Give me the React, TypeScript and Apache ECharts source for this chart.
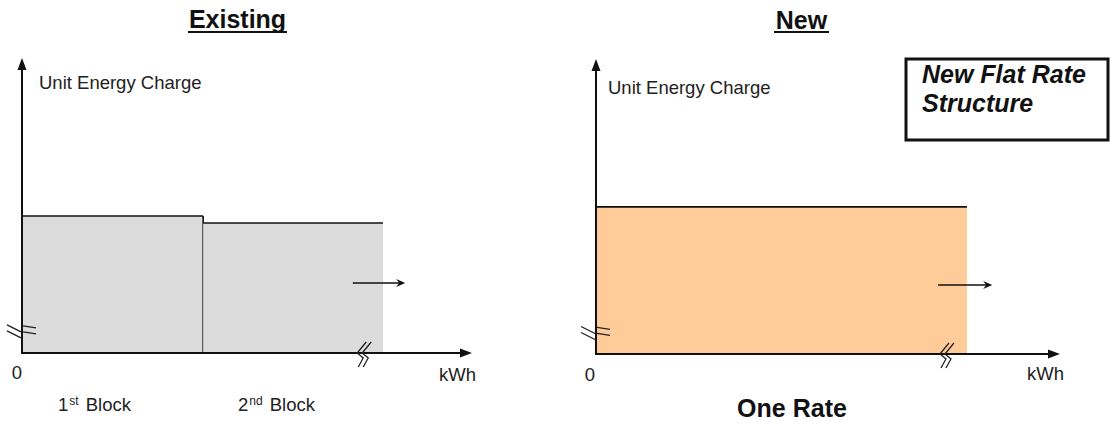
import React, { useEffect, useRef } from "react";
import * as echarts from "echarts";

// Rate blocks as [start kWh, end kWh, unit energy charge]
const existingBlocks: number[][] = [
  [0, 4.08, 4.74],
  [4.08, 8.13, 4.5],
];
const newBlocks: number[][] = [[0, 8.1, 5.09]];

// "continues beyond" arrows: [from kWh, to kWh, height]
const existingFlow: number[][] = [[7.45, 8.63, 2.42]];
const newFlow: number[][] = [[7.47, 8.65, 2.39]];

// Axis break marks: [position on kWh axis, position on charge axis]
const existingBreaks: number[][] = [[7.55, 0.73]];
const newBreaks: number[][] = [[7.51, 0.71]];

const panelTitles = ["Existing", "New"];
const axisTitle = "Unit Energy Charge";
const xUnit = "kWh";
const originLabel = "0";
const blockLabels = ["1{sup|st} Block", "2{sup|nd} Block"];
const newRateLabel = "One Rate";
const calloutLines = ["New Flat Rate", "Structure"];

const FONT = "'Liberation Sans', Arial, sans-serif";
const INK = "#111";
const BODY = "#222";

const blockItem = (fill: string, count: number) => (params: any, api: any) => {
  const tl = api.coord([api.value(0), api.value(2)]);
  const br = api.coord([api.value(1), 0]);
  const edge = { stroke: INK, lineWidth: 1.6 };
  const children: any[] = [
    {
      type: "rect",
      shape: { x: tl[0], y: tl[1], width: br[0] - tl[0], height: br[1] - tl[1] },
      style: { fill },
    },
    { type: "line", shape: { x1: tl[0], y1: tl[1], x2: br[0], y2: tl[1] }, style: edge },
  ];
  if (params.dataIndex < count - 1) {
    children.push({ type: "line", shape: { x1: br[0], y1: tl[1], x2: br[0], y2: br[1] }, style: edge });
  }
  return { type: "group", children };
};

const flowItem = (_params: any, api: any) => {
  const a = api.coord([api.value(0), api.value(2)]);
  const b = api.coord([api.value(1), api.value(2)]);
  return {
    type: "group",
    children: [
      { type: "line", shape: { x1: a[0], y1: a[1], x2: b[0] - 5, y2: b[1] }, style: { stroke: INK, lineWidth: 1.5 } },
      {
        type: "polygon",
        shape: { points: [[b[0], b[1]], [b[0] - 9, b[1] - 4], [b[0] - 6, b[1]], [b[0] - 9, b[1] + 4]] },
        style: { fill: INK },
      },
    ],
  };
};

const breakItem = (_params: any, api: any) => {
  const xb = api.coord([api.value(0), 0]);
  const yb = api.coord([0, api.value(1)]);
  const style = { stroke: "#222", lineWidth: 1.3, fill: "none" };
  const children: any[] = [];
  for (const d of [0, 5]) {
    children.push({
      type: "polyline",
      shape: {
        points: [
          [xb[0] + d + 9, xb[1] - 11],
          [xb[0] + d, xb[1]],
          [xb[0] + d + 6, xb[1] + 5],
          [xb[0] + d + 1, xb[1] + 14],
        ],
      },
      style,
    });
  }
  for (const d of [0, 6]) {
    children.push({ type: "line", shape: { x1: yb[0] - 15, y1: yb[1] - 7 + d, x2: yb[0] - 1, y2: yb[1] + d }, style });
    children.push({ type: "line", shape: { x1: yb[0] + 1, y1: yb[1] - 6 + d, x2: yb[0] + 14, y2: yb[1] - 4 + d }, style });
  }
  return { type: "group", children };
};

const axisBase = {
  type: "value" as const,
  min: 0,
  max: 10,
  z: 3,
  axisLine: {
    show: true,
    onZero: false,
    symbol: ["none", "triangle"],
    symbolSize: [9, 12],
    lineStyle: { color: INK, width: 2 },
  },
  axisTick: { show: false },
  axisLabel: { show: false },
  splitLine: { show: false },
};

const text = (t: string, x: number, y: number, extra: any = {}) => ({
  type: "text",
  silent: true,
  style: {
    text: t,
    x,
    y,
    fill: BODY,
    fontFamily: FONT,
    fontSize: 18.5,
    textVerticalAlign: "middle",
    ...extra,
  },
});

const underline = (x1: number, x2: number, y: number) => ({
  type: "line",
  silent: true,
  shape: { x1, y1: y, x2, y2: y },
  style: { stroke: INK, lineWidth: 2 },
});

export default function App() {
  const ref = useRef<HTMLDivElement>(null);

  useEffect(() => {
    if (!ref.current) return;
    const chart = echarts.init(ref.current, undefined, { renderer: "svg" });
    const bold = { fontWeight: "bold", fontSize: 25, fill: INK };
    const blockRich = {
      sup: { fontSize: 12, lineHeight: 9, verticalAlign: "top", fontFamily: FONT, fill: BODY, padding: [0, 2, 0, 1] },
    };

    chart.setOption({
      animation: false,
      backgroundColor: "#fff",
      grid: [
        { left: 22, top: 64, width: 444, height: 289 },
        { left: 596, top: 65, width: 458, height: 289 },
      ],
      xAxis: [
        { ...axisBase, gridIndex: 0 },
        { ...axisBase, gridIndex: 1 },
      ],
      yAxis: [
        { ...axisBase, gridIndex: 0 },
        { ...axisBase, gridIndex: 1 },
      ],
      series: [
        {
          type: "custom",
          name: panelTitles[0],
          xAxisIndex: 0,
          yAxisIndex: 0,
          z: 2,
          renderItem: blockItem("#dcdcdc", existingBlocks.length),
          data: existingBlocks,
        },
        {
          type: "custom",
          name: panelTitles[1],
          xAxisIndex: 1,
          yAxisIndex: 1,
          z: 2,
          renderItem: blockItem("#ffcc99", newBlocks.length),
          data: newBlocks,
        },
        { type: "custom", xAxisIndex: 0, yAxisIndex: 0, z: 4, renderItem: flowItem, data: existingFlow },
        { type: "custom", xAxisIndex: 1, yAxisIndex: 1, z: 4, renderItem: flowItem, data: newFlow },
        { type: "custom", xAxisIndex: 0, yAxisIndex: 0, z: 4, renderItem: breakItem, data: existingBreaks },
        { type: "custom", xAxisIndex: 1, yAxisIndex: 1, z: 4, renderItem: breakItem, data: newBreaks },
      ],
      graphic: [
        // panel headings
        text(panelTitles[0], 237.5, 19, { ...bold, textAlign: "center" }),
        underline(188, 287, 32),
        text(panelTitles[1], 801.5, 20, { ...bold, textAlign: "center" }),
        underline(774, 829, 32),
        // axis captions
        text(axisTitle, 39, 82),
        text(axisTitle, 608, 87),
        text(originLabel, 17, 372, { textAlign: "center" }),
        text(originLabel, 590, 374, { textAlign: "center" }),
        text(xUnit, 439, 374),
        text(xUnit, 1027, 373),
        // block labels
        text(blockLabels[0], 58, 404, { rich: blockRich, lineHeight: 18 }),
        text(blockLabels[1], 238, 404, { rich: blockRich, lineHeight: 18 }),
        text(newRateLabel, 792, 408, { ...bold, textAlign: "center" }),
        // callout box
        {
          type: "rect",
          silent: true,
          shape: { x: 906, y: 59, width: 202, height: 81 },
          style: { fill: "#fff", stroke: INK, lineWidth: 3 },
        },
        text(calloutLines[0], 922, 74, { ...bold, fontStyle: "italic" }),
        text(calloutLines[1], 922, 103, { ...bold, fontStyle: "italic" }),
      ],
    });
    return () => chart.dispose();
  }, []);

  return (
    <div
      ref={ref}
      style={{ position: "absolute", left: 0, top: 0, width: 1111, height: 425, background: "#fff" }}
    />
  );
}
